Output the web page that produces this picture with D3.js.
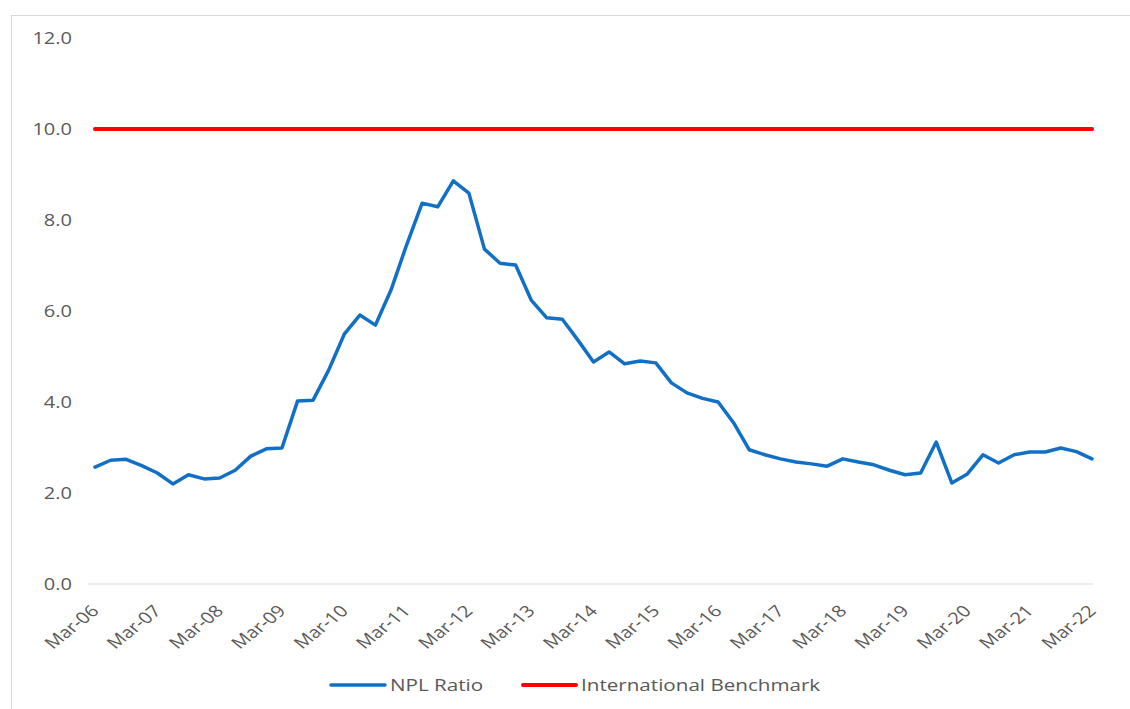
<!DOCTYPE html>
<html><head><meta charset="utf-8">
<script src="https://cdn.jsdelivr.net/npm/d3@7"></script>
<style>body{margin:0;background:#fff;} svg{display:block;}</style>
</head><body>
<script>
const years = d3.range(6, 23);
const quarters = ["Mar","Jun","Sep","Dec"];
const categories = [];
years.forEach(y => quarters.forEach(q => { if (!(y === 22 && q !== "Mar")) categories.push(q + "-" + String(y).padStart(2, "0")); }));
const nplRatio = [2.57,2.72,2.74,2.60,2.44,2.20,2.40,2.31,2.33,2.50,2.81,2.97,2.99,4.02,4.04,4.70,
  5.49,5.91,5.69,6.46,7.45,8.37,8.29,8.86,8.59,7.36,7.05,7.01,6.24,5.85,5.82,5.36,
  4.88,5.10,4.84,4.90,4.86,4.42,4.20,4.08,4.00,3.54,2.95,2.84,2.75,2.68,2.64,2.59,
  2.75,2.68,2.62,2.50,2.40,2.44,3.12,2.22,2.42,2.84,2.66,2.84,2.90,2.90,2.99,2.91,2.75];
const benchmark = categories.map(() => 10.0);
const yTicks = [0, 2, 4, 6, 8, 10, 12];
const xTickLabels = categories.filter(c => c.startsWith("Mar"));
const seriesNames = ["NPL Ratio", "International Benchmark"];
const colors = ["#1170C6", "#FF0000"];

const W = 1130, H = 709;
const svg = d3.select("body").append("svg").attr("width", W).attr("height", H);
svg.append("rect").attr("x", 11.5).attr("y", 15.5).attr("width", W).attr("height", H)
  .attr("fill", "none").attr("stroke", "#d9d9d9");

const x = d3.scalePoint().domain(categories).range([95, 1092]);
const y = d3.scaleLinear().domain([0, 12]).range([584, 38]);
const font = "'Open Sans', 'Noto Sans', sans-serif";
const stretch = 1.25;

// axis baseline
svg.append("line").attr("x1", 88).attr("x2", 1093).attr("y1", y(0)).attr("y2", y(0))
  .attr("stroke", "#d9d9d9").attr("stroke-width", 1.2);

// y labels
svg.append("g").selectAll("text").data(yTicks).join("text")
  .attr("transform", d => `translate(72,${y(d)}) scale(${stretch},1)`)
  .attr("dy", "0.35em")
  .attr("text-anchor", "end").attr("font-family", font).attr("font-size", 16)
  .attr("fill", "#595959").text(d => d.toFixed(1));

// x labels
svg.append("g").selectAll("text").data(xTickLabels).join("text")
  .attr("transform", d => `translate(${x(d) + 5},${y(0) + 28}) scale(${stretch},1) rotate(-45)`)
  .attr("text-anchor", "end").attr("font-family", font).attr("font-size", 16)
  .attr("fill", "#595959").text(d => d);

const line = d3.line().x((d, i) => x(categories[i])).y(d => y(d));
svg.append("path").datum(benchmark).attr("d", line).attr("fill", "none")
  .attr("stroke", colors[1]).attr("stroke-width", 4).attr("stroke-linecap", "round");
svg.append("path").datum(nplRatio).attr("d", line).attr("fill", "none")
  .attr("stroke", colors[0]).attr("stroke-width", 3.5).attr("stroke-linejoin", "round").attr("stroke-linecap", "round");

// legend
const legend = [{x1: 331, x2: 385, tx: 390}, {x1: 523, x2: 576, tx: 581}];
legend.forEach((l, i) => {
  svg.append("line").attr("x1", l.x1).attr("x2", l.x2).attr("y1", 685).attr("y2", 685)
    .attr("stroke", colors[i]).attr("stroke-width", i ? 4 : 3.5).attr("stroke-linecap", "round");
  svg.append("text").attr("transform", `translate(${l.tx},685) scale(${stretch},1)`).attr("dy", "0.35em")
    .attr("font-family", font).attr("font-size", 16.5).attr("fill", "#595959").text(seriesNames[i]);
});
</script>
</body></html>
